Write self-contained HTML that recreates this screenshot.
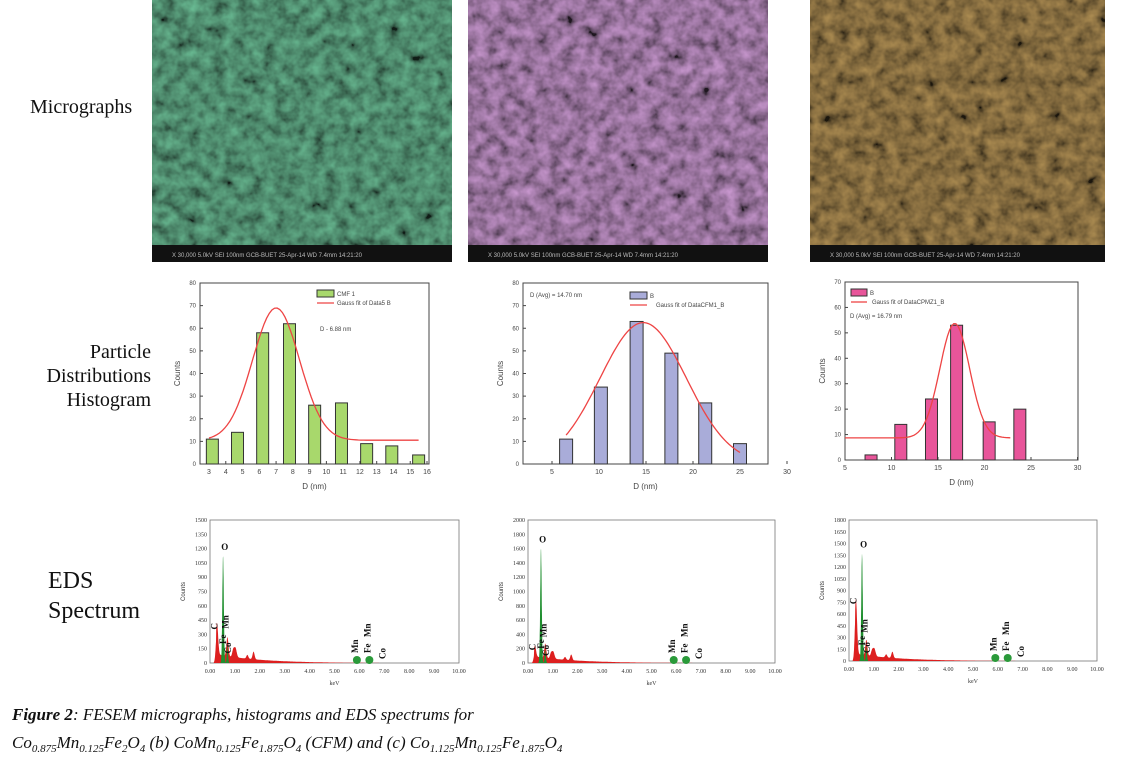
<!DOCTYPE html>
<html><head><meta charset="utf-8"><style>
html,body{margin:0;padding:0;background:#fff;width:1123px;height:760px;overflow:hidden}
svg{display:block}
</style></head><body>
<svg id="s" width="1123" height="760" xmlns="http://www.w3.org/2000/svg" font-family="Liberation Sans, sans-serif">
<defs>
<filter id="tex" x="0" y="0" width="100%" height="100%">
<feTurbulence type="fractalNoise" baseFrequency="0.08" numOctaves="3" seed="4"/>
<feColorMatrix type="saturate" values="0"/>
<feComponentTransfer><feFuncR type="linear" slope="1.4" intercept="-0.3"/><feFuncG type="linear" slope="1.4" intercept="-0.3"/><feFuncB type="linear" slope="1.4" intercept="-0.3"/><feFuncA type="linear" slope="0" intercept="1"/></feComponentTransfer>
</filter>
</defs>
<g id="micro"></g>
<g font-family="Liberation Serif, serif" fill="#111">
<text x="30" y="113" font-size="20">Micrographs</text>
<text x="151" y="358" font-size="20" text-anchor="end">Particle</text>
<text x="151" y="382" font-size="20" text-anchor="end">Distributions</text>
<text x="151" y="406" font-size="20" text-anchor="end">Histogram</text>
<text x="48" y="588" font-size="24">EDS</text>
<text x="48" y="618" font-size="24">Spectrum</text>
<text x="12" y="720" font-size="17" font-style="italic"><tspan font-weight="bold">Figure 2</tspan>: FESEM micrographs, histograms and EDS spectrums for</text>
<text x="12" y="748" font-size="17" font-style="italic">Co<tspan font-size="11" dy="4">0.875</tspan><tspan dy="-4">Mn</tspan><tspan font-size="11" dy="4">0.125</tspan><tspan dy="-4">Fe</tspan><tspan font-size="11" dy="4">2</tspan><tspan dy="-4">O</tspan><tspan font-size="11" dy="4">4</tspan><tspan dy="-4"> (b) CoMn</tspan><tspan font-size="11" dy="4">0.125</tspan><tspan dy="-4">Fe</tspan><tspan font-size="11" dy="4">1.875</tspan><tspan dy="-4">O</tspan><tspan font-size="11" dy="4">4</tspan><tspan dy="-4"> (CFM) and (c) Co</tspan><tspan font-size="11" dy="4">1.125</tspan><tspan dy="-4">Mn</tspan><tspan font-size="11" dy="4">0.125</tspan><tspan dy="-4">Fe</tspan><tspan font-size="11" dy="4">1.875</tspan><tspan dy="-4">O</tspan><tspan font-size="11" dy="4">4</tspan></text>
</g>
<g id="g"></g>
</svg>
<script>
const NS="http://www.w3.org/2000/svg";
const G=document.getElementById('g'),M=document.getElementById('micro');
function el(p,t,a,txt){const e=document.createElementNS(NS,t);for(const k in a)e.setAttribute(k,a[k]);if(txt!=null)e.textContent=txt;p.appendChild(e);return e;}
[[152,300,'#3f7058'],[468,300,'#7a5c7e'],[810,295,'#6a5632']].forEach(([x,w,c],i)=>{
 el(M,'rect',{x:x,y:0,width:w,height:262,fill:c});
 el(M,'rect',{x:x,y:0,width:w,height:262,fill:'#808080',filter:'url(#tex)',style:'mix-blend-mode:overlay',opacity:0.75});
 el(M,'rect',{x:x,y:245,width:w,height:17,fill:'#111'});
 el(M,'text',{x:x+20,y:257,'font-size':6,fill:'#bbb'},'X 30,000    5.0kV  SEI        100nm   GCB-BUET 25-Apr-14   WD 7.4mm  14:21:20');
});
function hist(o){
 const {x0,x1,y0,y1,ymax,yt,xm,bars,bw,fill,gauss,xt,leg}=o;
 const Y=c=>y1-(c/ymax)*(y1-y0);
 el(G,'rect',{x:x0,y:y0,width:x1-x0,height:y1-y0,fill:'none',stroke:'#444','stroke-width':1});
 for(let v=0;v<=ymax;v+=yt){el(G,'text',{x:x0-4,y:Y(v)+2,'font-size':6,'text-anchor':'end',fill:'#444'},v);el(G,'line',{x1:x0,x2:x0+3,y1:Y(v),y2:Y(v),stroke:'#444'});}
 xt.forEach(([v,l])=>{el(G,'text',{x:xm(v),y:y1+10,'font-size':7,'text-anchor':'middle',fill:'#444'},l);el(G,'line',{x1:xm(v),x2:xm(v),y1:y1,y2:y1-3,stroke:'#444'});});
 el(G,'text',{x:(x0+x1)/2,y:y1+25,'font-size':8,'text-anchor':'middle',fill:'#444'},'D  (nm)');
 el(G,'text',{x:0,y:0,'font-size':8,'text-anchor':'middle',fill:'#444',transform:`translate(${x0-20},${(y0+y1)/2}) rotate(-90)`},'Counts');
 bars.forEach(([v,c])=>{const cx=xm(v);el(G,'rect',{x:cx-bw/2,y:Y(c),width:bw,height:y1-Y(c),fill:fill,stroke:'#333','stroke-width':1});});
 let d='';for(let v=gauss.a;v<=gauss.b;v+=(gauss.b-gauss.a)/80){const c=gauss.base+gauss.A*Math.exp(-((v-gauss.m)**2)/(2*gauss.s*gauss.s));d+=(d?'L':'M')+xm(v).toFixed(1)+','+Y(c).toFixed(1);}
 el(G,'path',{d:d,fill:'none',stroke:'#ee4444','stroke-width':1.3});
 leg(Y);
}
const xm1=v=>209+(v-3)*16.77;
hist({x0:200,x1:429,y0:283,y1:464,ymax:80,yt:10,xm:xm1,bw:12,fill:'#a8d86c',
 bars:[[3.2,11],[4.7,14],[6.2,58],[7.8,62],[9.3,26],[10.9,27],[12.4,9],[13.9,8],[15.5,4]],
 gauss:{a:3,b:15.5,m:7,s:1.4,A:58.5,base:10.5},
 xt:[3,4,5,6,7,8,9,10,11,12,13,14,15,16].map(v=>[v,v]),
 leg:Y=>{el(G,'rect',{x:317,y:290,width:17,height:7,fill:'#a8d86c',stroke:'#333'});el(G,'text',{x:337,y:296,'font-size':6,fill:'#444'},'CMF 1');
 el(G,'line',{x1:317,x2:334,y1:303,y2:303,stroke:'#e44','stroke-width':1.3});el(G,'text',{x:337,y:305,'font-size':6,fill:'#444'},'Gauss fit of Data5  B');
 el(G,'text',{x:320,y:331,'font-size':6,fill:'#444'},'D - 6.88 nm');}});
const xm2=v=>505+v*9.4;
hist({x0:523,x1:768,y0:283,y1:464,ymax:80,yt:10,xm:xm2,bw:13,fill:'#a9acd9',
 bars:[[6.5,11],[10.2,34],[14,63],[17.7,49],[21.3,27],[25,9]],
 gauss:{a:6.5,b:25,m:14.7,s:4.6,A:62.5,base:0},
 xt:[5,10,15,20,25,30].map(v=>[v,v]),
 leg:Y=>{el(G,'text',{x:530,y:297,'font-size':6,fill:'#444'},'D (Avg) = 14.70 nm');el(G,'rect',{x:630,y:292,width:17,height:7,fill:'#a9acd9',stroke:'#333'});el(G,'text',{x:650,y:298,'font-size':6,fill:'#444'},'B');
 el(G,'line',{x1:630,x2:647,y1:305,y2:305,stroke:'#e44','stroke-width':1.3});el(G,'text',{x:656,y:307,'font-size':6,fill:'#444'},'Gauss fit of DataCFM1_B');}});
const xm3=v=>845+(v-5)*9.3;
hist({x0:845,x1:1078,y0:282,y1:460,ymax:70,yt:10,xm:xm3,bw:12,fill:'#e8559a',
 bars:[[7.8,2],[11,14],[14.3,24],[17,53],[20.5,15],[23.8,20]],
 gauss:{a:5,b:23,m:16.8,s:1.6,A:45,base:8.7},
 xt:[5,10,15,20,25,30].map(v=>[v,v]),
 leg:Y=>{el(G,'rect',{x:851,y:289,width:16,height:7,fill:'#e8559a',stroke:'#333'});el(G,'text',{x:870,y:295,'font-size':6,fill:'#444'},'B');
 el(G,'line',{x1:851,x2:867,y1:302,y2:302,stroke:'#e44','stroke-width':1.3});el(G,'text',{x:872,y:304,'font-size':6,fill:'#444'},'Gauss fit of DataCPMZ1_B');
 el(G,'text',{x:850,y:318,'font-size':6,fill:'#444'},'D (Avg) = 16.79 nm');}});
function eds(o){
 const {x0,x1,y0,y1,ymax,yt,O}=o;
 const X=k=>x0+k/10*(x1-x0),Y=c=>y1-c/ymax*(y1-y0);
 el(G,'rect',{x:x0,y:y0,width:x1-x0,height:y1-y0,fill:'none',stroke:'#777','stroke-width':0.8});
 for(let v=0;v<=ymax+1;v+=yt){el(G,'text',{x:x0-3,y:Y(v)+2,'font-size':6,'text-anchor':'end','font-family':'Liberation Serif, serif',fill:'#333'},v);}
 for(let k=0;k<=10;k++)el(G,'text',{x:X(k),y:y1+10,'font-size':6,'text-anchor':'middle','font-family':'Liberation Serif, serif',fill:'#333'},k.toFixed(2));
 el(G,'text',{x:(x0+x1)/2,y:y1+22,'font-size':6,'text-anchor':'middle','font-family':'Liberation Serif, serif',fill:'#333'},'keV');
 el(G,'text',{x:0,y:0,'font-size':6,'text-anchor':'middle',fill:'#333',transform:`translate(${x0-25},${(y0+y1)/2}) rotate(-90)`},'Counts');
 const pk=[[0.28,o.C,0.045],[0.7,200,0.04],[0.93,70,0.04],[1.02,100,0.05],[1.5,40,0.04],[1.75,80,0.04]];
 let d=`M${X(0.15)},${Y(0)}`;
 for(let k=0.15;k<=10;k+=0.01){let c=k<0.25?0:Math.max(0,70*Math.exp(-(k-0.8)/1.8)-2);pk.forEach(([m,a,s])=>c+=a*Math.exp(-((k-m)**2)/(2*s*s)));d+=`L${X(k).toFixed(1)},${Y(Math.min(c,ymax)).toFixed(1)}`;}
 d+=`L${X(10)},${Y(0)}Z`;
 el(G,'path',{d:d,fill:'#dd1f1f'});
 let g=`M${X(0.4)},${Y(0)}`;
 for(let k=0.4;k<=0.85;k+=0.005){let c=O*Math.exp(-((k-0.525)**2)/(2*0.03*0.03))+180*Math.exp(-((k-0.7)**2)/(2*0.025*0.025));g+=`L${X(k).toFixed(1)},${Y(c).toFixed(1)}`;}
 g+=`L${X(0.85)},${Y(0)}Z`;
 el(G,'path',{d:g,fill:'#1f8f2f'});
 [[5.9,40],[6.4,50]].forEach(([m,a])=>el(G,'ellipse',{cx:X(m),cy:Y(0)-3,rx:4,ry:4,fill:'#2a9a3a'}));
 const T=(x,y,t,r)=>el(G,'text',{x:x,y:y,'font-size':9,'font-weight':'bold','font-family':'Liberation Serif, serif',fill:'#111',transform:r?`rotate(-90 ${x} ${y})`:''},t);
 T(X(0.45),Y(O)-6,'O');
 T(X(0.3),Y(o.C)-2,'C',1);
 T(X(0.75),Y(360),'Mn',1);T(X(0.65),Y(200),'Fe',1);T(X(0.85),Y(100),'Co',1);
 T(X(5.95),Y(0)-10,'Mn',1);T(X(6.45),Y(0)-10,'Fe',1);T(X(6.45),Y(0)-26,'Mn',1);T(X(7.05),Y(0)-4,'Co',1);
}
eds({x0:210,x1:459,y0:520,y1:663,ymax:1500,yt:150,O:1120,C:330});
eds({x0:528,x1:775,y0:520,y1:663,ymax:2000,yt:200,O:1600,C:150});
eds({x0:849,x1:1097,y0:520,y1:661,ymax:1800,yt:150,O:1370,C:700});
</script>
</body></html>
